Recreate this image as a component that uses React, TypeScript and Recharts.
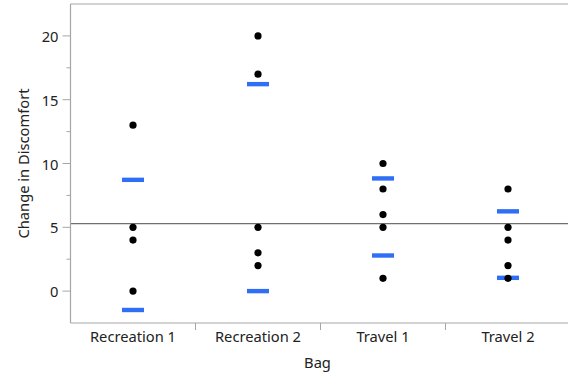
import React from "react";
import { ComposedChart, Scatter, XAxis, YAxis, ReferenceLine } from "recharts";

const categories = ["Recreation 1", "Recreation 2", "Travel 1", "Travel 2"];
const recreation1 = [13, 5, 4, 0];
const recreation2 = [20, 17, 5, 3, 2];
const travel1 = [10, 8, 6, 5, 1];
const travel2 = [8, 5, 4, 2, 1];
const upperLines = [8.72, 16.22, 8.83, 6.25];
const lowerLines = [-1.48, 0, 2.79, 1.04];
const grandMean = 5.29;
const yTicks = [0, 2.5, 5, 7.5, 10, 12.5, 15, 17.5, 20];
const majorYTicks = [0, 5, 10, 15, 20];
const xTicks = [0.5, 1, 1.5, 2, 2.5, 3, 3.5];

const groups = [recreation1, recreation2, travel1, travel2];
const pointData = groups.flatMap((vals, i) => vals.map((v) => ({ x: i + 0.5, y: v })));
const lineData = categories.flatMap((_, i) => [
  { x: i + 0.5, y: upperLines[i] },
  { x: i + 0.5, y: lowerLines[i] },
]);

const FONT = "'Noto Sans', 'Open Sans', sans-serif";
const FS = 14.7;
const AXIS = "#a6a6a6";
const TEXT = "#222";

const YTick = (props: any) => {
  const { x, y, payload } = props;
  const major = majorYTicks.includes(payload.value);
  return (
    <g>
      <line x1={x - (major ? 8 : 4)} x2={x} y1={y} y2={y} stroke={AXIS} strokeWidth={1} />
      {major && (
        <text x={x - 12} y={y} textAnchor="end" dominantBaseline="central" fontSize={FS} fontFamily={FONT} fill={TEXT}>
          {payload.value}
        </text>
      )}
    </g>
  );
};

const XTick = (props: any) => {
  const { x, y, payload } = props;
  const v = payload.value;
  if (Number.isInteger(v)) {
    return <line x1={x} x2={x} y1={y} y2={y + 7} stroke={AXIS} strokeWidth={1} />;
  }
  return (
    <text x={x} y={y + 18.5} textAnchor="middle" fontSize={FS} fontFamily={FONT} fill={TEXT}>
      {categories[Math.floor(v)]}
    </text>
  );
};

const Dot = (props: any) => <circle cx={props.cx} cy={props.cy} r={3.6} fill="#000" />;
const Dash = (props: any) => (
  <rect x={props.cx - 11} y={props.cy - 2.2} width={22} height={4.4} fill="#2f6ef5" />
);

export default function App() {
  return (
    <div style={{ position: "absolute", left: 0, top: 0, width: 568, height: 375, overflow: "hidden", background: "#fff" }}>
      <ComposedChart width={580} height={375} margin={{ top: 4, right: 9.5, left: 0, bottom: 0 }}>
        <XAxis
          type="number"
          dataKey="x"
          domain={[0, 4]}
          ticks={xTicks}
          interval={0}
          tickSize={0}
          tickMargin={0}
          tickLine={false}
          tick={<XTick />}
          axisLine={{ stroke: AXIS, strokeWidth: 1.2 }}
          height={52}
          label={({ viewBox }: any) => (
            <text x={viewBox.x + viewBox.width / 2 - 3} y={viewBox.y + 45} textAnchor="middle" fontSize={FS} fontFamily={FONT} fill={TEXT}>
              Bag
            </text>
          )}
        />
        <YAxis
          type="number"
          dataKey="y"
          domain={[-2.5, 22.5]}
          ticks={yTicks}
          interval={0}
          tickSize={0}
          tickMargin={0}
          tickLine={false}
          tick={<YTick />}
          axisLine={{ stroke: AXIS, strokeWidth: 1.2 }}
          width={70.5}
          label={({ viewBox }: any) => {
            const cx = viewBox.x + 23;
            const cy = viewBox.y + viewBox.height / 2;
            return (
              <text x={cx} y={cy} transform={`rotate(-90 ${cx} ${cy})`} textAnchor="middle" dominantBaseline="central" fontSize={FS} fontFamily={FONT} fill={TEXT}>
                Change in Discomfort
              </text>
            );
          }}
        />
        <ReferenceLine y={22.5} stroke={AXIS} strokeWidth={1.2} />
        <ReferenceLine y={grandMean} stroke="#707070" strokeWidth={1.3} />
        <Scatter data={lineData} dataKey="y" shape={<Dash />} isAnimationActive={false} />
        <Scatter data={pointData} dataKey="y" shape={<Dot />} isAnimationActive={false} />
      </ComposedChart>
    </div>
  );
}
